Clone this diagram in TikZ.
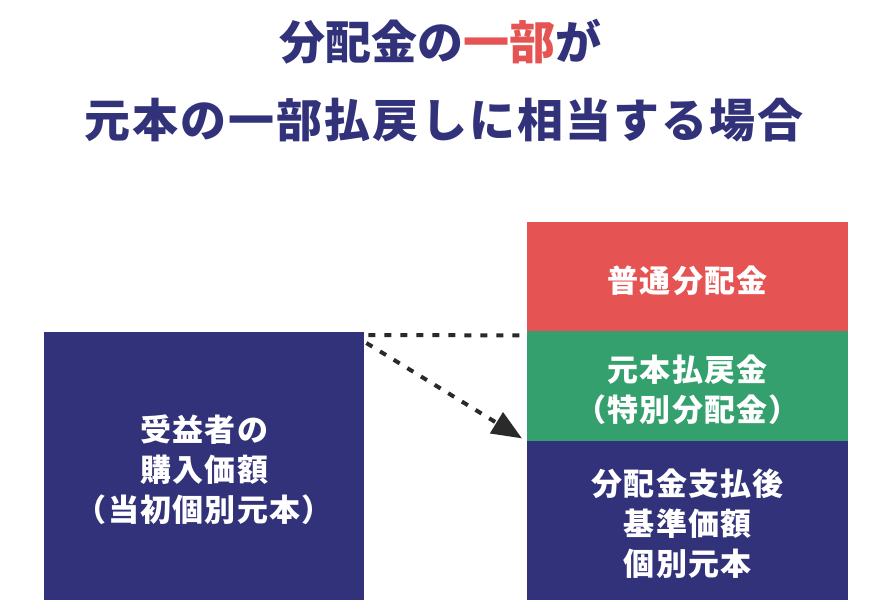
\documentclass[tikz,border=0pt]{standalone}
\usepackage{fontspec}
\setmainfont{Noto Sans CJK JP}
\newfontfamily\titlewide{Noto Sans CJK JP}[LetterSpace=4.6]
\newfontfamily\boxwide{Noto Sans CJK JP}[LetterSpace=4]
\usetikzlibrary{arrows.meta}
\definecolor{navy}{HTML}{32327A}
\definecolor{redc}{HTML}{E55353}
\definecolor{greenc}{HTML}{34A06E}
\definecolor{arrowc}{HTML}{2A2A2A}
\tikzset{
  block/.style={draw=none, inner sep=0pt, anchor=north west, text=white, align=center,
    font=\boxwide\fontsize{31}{40}\selectfont\bfseries},
  title/.style={inner sep=0pt, text=navy, font=\fontsize{46}{54}\selectfont\bfseries},
  conn/.style={draw=arrowc, line width=4pt, dash pattern=on 7pt off 9pt},
}
\begin{document}
\begin{tikzpicture}[x=1pt,y=-1pt]
\useasboundingbox (0,0) rectangle (880,600);
\node[title] (t1) at (440,42) {分配金の\textcolor{redc}{一部}が};
\node[title, font=\titlewide\fontsize{46}{54}\selectfont\bfseries] (t2) at (444,120) {元本の一部払戻しに相当する場合};
\node[block, fill=navy, minimum width=320pt, minimum height=268pt] (buy) at (44,332) {};
\node[block, text width=320pt] (buyt) at ([yshift=-4pt]buy.center) [anchor=center] {受益者の\\購入価額\\（当初個別元本）};
\node[block, fill=redc, minimum width=321pt, minimum height=109pt] (normal) at (527,222) {};
\node[block, text width=321pt] (normalt) at ([yshift=-4pt]normal.center) [anchor=center] {普通分配金};
\node[block, fill=greenc, minimum width=321pt, minimum height=110pt] (ret) at (527,331) {};
\node[block, text width=321pt] (rett) at ([yshift=-4pt]ret.center) [anchor=center] {元本払戻金\\（特別分配金）};
\node[block, fill=navy, minimum width=321pt, minimum height=159pt] (after) at (527,441) {};
\node[block, text width=321pt] (aftert) at ([yshift=-2.5pt]after.center) [anchor=center] {分配金支払後\\基準価額\\個別元本};
\coordinate (d1) at ([shift={(4pt,-3pt)}]buy.north east);
\coordinate (d2) at ([shift={(-5pt,-4pt)}]normal.south west);
\draw[conn] (d1) -- (d2);
\coordinate (a1) at ([shift={(2pt,-11pt)}]buy.north east);
\coordinate (a2) at ([shift={(-5pt,3pt)}]ret.south west);
\draw[conn, -{Triangle[length=30pt,width=24pt]}] (a1) -- (a2);
\end{tikzpicture}
\end{document}
